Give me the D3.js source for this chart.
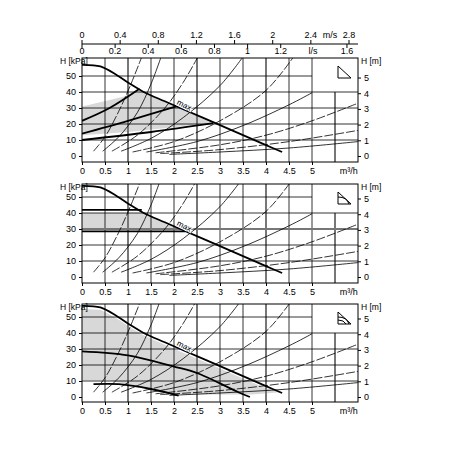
<!DOCTYPE html>
<html><head><meta charset="utf-8">
<script src="https://cdn.jsdelivr.net/npm/d3@7"></script>
<style>body{margin:0;background:#fff}svg{font-family:"Liberation Sans",Arial,sans-serif}</style>
</head><body><svg id="c" width="450" height="450"></svg>
<script>
// flow in m3/h, head in kPa
const flowTicks = [0, 0.5, 1, 1.5, 2, 2.5, 3, 3.5, 4, 4.5, 5];
const speedTicks = [0, 0.4, 0.8, 1.2, 1.6, 2, 2.4, 2.8];
const lpsTicks = [0, 0.2, 0.4, 0.6, 0.8, 1, 1.2, 1.6];
const meterTicks = [0, 1, 2, 3, 4, 5];
const kpaTicks = [0, 10, 20, 30, 40, 50];

const maxCurve = [[0,57],[0.4,56],[0.76,50.5],[1.05,45],[1.33,40.2],[1.8,34.2],[2.2,29.2],[2.9,20.5],[3.5,13],[4,6.8],[4.35,2.5]];

// system curves [points, dashed]
const sysCurves = [
  [[[0.25,3],[0.5,12],[0.8,28],[1.05,44],[1.3,62]], true],
  [[[0.45,3],[0.8,12],[1.2,27],[1.5,45],[1.72,62]], false],
  [[[0.65,3],[1.2,13],[1.8,30],[2.2,46],[2.52,62]], true],
  [[[0.85,3],[1.5,11],[2.2,24],[3,44],[3.5,62]], false],
  [[[1.1,2.5],[2,9],[3,22],[4,41],[4.6,62]], true],
  [[[1.4,2.5],[2.5,9],[3.5,19],[4.5,32],[5,39.5]], false],
  [[[1.6,2],[3,7],[4,13],[5,22],[6,33]], true],
  [[[1.7,1.5],[3,4],[4.5,9],[6,16]], true],
  [[[1.9,1],[3,2.5],[4.5,5],[6,9]], false]
];

const p1Lines = [[[0,22],[0.6,30],[1.25,42]], [[0,14],[1,22],[2.05,31]], [[0,10],[1.5,15],[2.85,20.5]]];
const p1Shade = [[0,13],[0,31],[0.9,37],[1.2,41],[1.33,40.2],[1.8,34.2],[2.2,29.2],[2.8,21],[2,18],[1,15]];
const p2Lines = [[[0,42],[1.3,42]], [[0,28.5],[2.25,28.5]]];
const p2Shade = [[0,29.5],[0,40],[1.35,40],[1.8,34.2],[2.15,29.5]];
const p3Lines = [[[0,28.5],[1,26],[2,19],[2.5,15],[3,8.5],[3.4,3],[3.65,0]], [[0.25,8],[0.8,8],[1.5,5],[2.1,0.8]]];
const p3Shade = [[0,10.5],[0,55],[0.4,54.5],[0.76,49],[1.05,43.5],[1.33,38.7],[1.8,32.7],[2.2,27.7],[2.9,19],[3.5,11.5],[4,5.5],[4.3,3],[3.7,1.5],[2.2,1.5],[1.5,4],[0.6,10.5]];

const panels = [
  {top:58, bottom:162, zero:156, lines:p1Lines, shade:p1Shade, icon:1},
  {top:184, bottom:283, zero:277, lines:p2Lines, shade:p2Shade, icon:2, thickY:30},
  {top:304, bottom:402, zero:397, lines:p3Lines, shade:p3Shade, icon:3}
];

const svg = d3.select("#c");
const x = d3.scaleLinear().domain([0,6]).range([82,358]);

// top axes
svg.append("line").attr("x1",82).attr("x2",358).attr("y1",44).attr("y2",44).attr("stroke","#000");
const xs = d3.scaleLinear().domain([0,2.8]).range([82,349]);
speedTicks.forEach(v => {
  svg.append("line").attr("x1",xs(v)).attr("x2",xs(v)).attr("y1",40).attr("y2",44).attr("stroke","#000");
  svg.append("text").attr("x",xs(v)).attr("y",38).attr("text-anchor","middle").attr("font-size",9).text(v);
});
lpsTicks.forEach(v => {
  const px = x(v*3.6);
  svg.append("line").attr("x1",px).attr("x2",px).attr("y1",44).attr("y2",48).attr("stroke","#000");
  svg.append("text").attr("x",px).attr("y",54).attr("text-anchor","middle").attr("font-size",9).text(v);
});
svg.append("text").attr("x",330).attr("y",38).attr("text-anchor","middle").attr("font-size",9).text("m/s");
svg.append("text").attr("x",313).attr("y",54).attr("text-anchor","middle").attr("font-size",9).text("l/s");

panels.forEach(p => {
  const y = d3.scaleLinear().domain([0,10]).range([p.zero,p.zero-16]);
  const g = svg.append("g");
  const line = d3.line().x(d=>x(d[0])).y(d=>y(d[1])).curve(d3.curveCatmullRom);

  svg.append("clipPath").attr("id","cl"+p.top).append("rect").attr("x",82).attr("y",p.top).attr("width",276).attr("height",p.bottom-p.top);
  const inner = g.append("g").attr("clip-path",`url(#cl${p.top})`);

  inner.append("path").attr("d", d3.line().x(d=>x(d[0])).y(d=>y(d[1])).curve(d3.curveLinearClosed)(p.shade)).attr("fill","#d8d8d8");

  // grid
  d3.range(0.5,6,0.5).forEach(v => {
    const thick = [1,2.5,4,5.5].includes(v);
    const yTop = v > 5.25 ? y(40) : p.top;
    inner.append("line").attr("x1",x(v)).attr("x2",x(v)).attr("y1",yTop).attr("y2",p.bottom)
      .attr("stroke", thick ? "#777" : "#000").attr("stroke-width", thick ? 2 : 0.8);
  });
  [10,20,30,40,50].forEach(v => {
    const thick = v === p.thickY;
    inner.append("line").attr("x1",x(0)).attr("x2",v > 45 ? x(5) : x(6)).attr("y1",y(v)).attr("y2",y(v))
      .attr("stroke", thick ? "#777" : "#000").attr("stroke-width", thick ? 2 : 0.8);
  });

  sysCurves.forEach(([pts,dashed]) => {
    inner.append("path").attr("d",line(pts)).attr("fill","none").attr("stroke","#000").attr("stroke-width",0.8)
      .attr("stroke-dasharray", dashed ? "9,2" : null);
  });
  inner.append("path").attr("d",line(maxCurve)).attr("fill","none").attr("stroke","#000").attr("stroke-width",1.8);
  p.lines.forEach(l => inner.append("path").attr("d",line(l)).attr("fill","none").attr("stroke","#000").attr("stroke-width",1.8));

  g.append("text").attr("x",x(2.05)).attr("y",y(32.5)).attr("font-size",8).attr("fill","#000")
    .attr("transform",`rotate(27,${x(2.05)},${y(32.5)})`).attr("stroke","#fff").attr("stroke-width",2).attr("paint-order","stroke").text("max");

  g.append("rect").attr("x",82).attr("y",p.top).attr("width",276).attr("height",p.bottom-p.top).attr("fill","none").attr("stroke","#000");

  // icon
  const ix = 338, iy = p.top + 8;
  g.append("path").attr("d",`M${ix},${iy}V${iy+12}H${ix+13}Z`).attr("fill","none").attr("stroke","#000");
  if (p.icon > 1) g.append("path").attr("d",`M${ix},${iy+5}Q${ix+9},${iy+5} ${ix+11},${iy+12}`).attr("fill","none").attr("stroke","#000");
  if (p.icon > 2) g.append("path").attr("d",`M${ix},${iy+8}Q${ix+6},${iy+8} ${ix+8},${iy+12}`).attr("fill","none").attr("stroke","#000");

  const style = a => { a.select(".domain").remove(); a.selectAll("text").attr("font-size",9).attr("font-family","Liberation Sans"); };
  g.append("g").attr("transform","translate(82,0)").call(d3.axisLeft(y).tickValues(kpaTicks).tickSize(3).tickSizeOuter(0)).call(style);
  g.append("g").attr("transform","translate(358,0)").call(d3.axisRight(y).tickValues(meterTicks.map(m=>m*9.81)).tickFormat((d,i)=>meterTicks[i]).tickSize(3).tickSizeOuter(0)).call(style);
  g.append("g").attr("transform",`translate(0,${p.bottom})`).call(d3.axisBottom(x).tickValues(flowTicks).tickFormat(d=>d).tickSize(3).tickSizeOuter(0)).call(style);
  g.append("text").attr("x",60).attr("y",p.top+6).attr("font-size",8.5).text("H [kPa]");
  g.append("text").attr("x",361).attr("y",p.top+6).attr("font-size",8.5).text("H [m]");
  g.append("text").attr("x",x(5.8)).attr("y",p.bottom+12).attr("font-size",9).attr("text-anchor","middle").text("m³/h");
});
</script></body></html>
